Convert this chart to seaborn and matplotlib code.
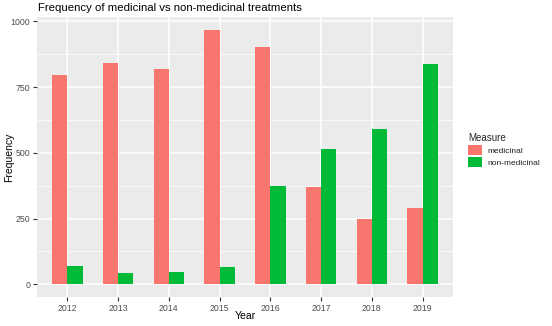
import matplotlib
matplotlib.use("Agg")
import matplotlib.pyplot as plt
import seaborn as sns
import pandas as pd
from matplotlib.patches import Patch

years = ["2012", "2013", "2014", "2015", "2016", "2017", "2018", "2019"]
medicinal = [797, 843, 820, 968, 902, 369, 249, 289]
non_medicinal = [69, 42, 46, 65, 375, 513, 589, 839]
measures = ["medicinal", "non-medicinal"]
colors = ["#F8766D", "#00BA38"]

df = pd.DataFrame({
    "Year": years * 2,
    "Frequency": medicinal + non_medicinal,
    "Measure": [measures[0]] * len(years) + [measures[1]] * len(years),
})

sns.set_theme(style="white")
plt.rcParams["font.family"] = ["Liberation Sans", "DejaVu Sans"]

W, H = 552, 326
fig = plt.figure(figsize=(W / 100, H / 100), dpi=100)
ax = fig.add_axes([37 / W, 1 - 297 / H, (453 - 37) / W, (297 - 17) / H])
ax.set_facecolor("#EBEBEB")

sns.barplot(data=df, x="Year", y="Frequency", hue="Measure", order=years,
            hue_order=measures, palette=colors, width=0.6, ax=ax,
            legend=False, saturation=1, linewidth=0, zorder=3)

ymax = max(medicinal + non_medicinal)
ax.set_xlim(-0.6, len(years) - 0.4)
ax.set_ylim(-0.05 * ymax, ymax * 1.05)

ax.set_yticks([0, 250, 500, 750, 1000])
ax.set_yticks([125, 375, 625, 875], minor=True)
ax.grid(True, which="major", color="white", linewidth=1.1, zorder=0)
ax.grid(True, which="minor", axis="y", color="white", linewidth=0.55, zorder=0)
ax.set_axisbelow(True)
for s in ax.spines.values():
    s.set_visible(False)

ax.tick_params(axis="both", which="major", length=3, width=0.8, color="#333333",
               labelsize=6.3, labelcolor="#4D4D4D", pad=2, bottom=True, left=True)
ax.tick_params(axis="both", which="minor", length=0)

ax.set_xlabel("Year", fontsize=7.5, color="black")
ax.set_ylabel("Frequency", fontsize=7.5, color="black")
ax.xaxis.set_label_coords((245 - 37) / (453 - 37), -(316 - 297) / (297 - 17))
ax.yaxis.set_label_coords(-(37 - 9) / (453 - 37), (297 - 157) / (297 - 17))
ax.xaxis.label.set_va("center")
ax.yaxis.label.set_va("center")

fig.text(38 / W, 1 - 8 / H, "Frequency of medicinal vs non-medicinal treatments",
         fontsize=8.2, color="black", ha="left", va="center")

handles = [Patch(facecolor=c, edgecolor="none") for c in colors]
leg = fig.legend(handles, measures, title="Measure", loc="upper left",
                 bbox_to_anchor=(462 / W, 1 - 127 / H), frameon=False,
                 fontsize=6, title_fontsize=7, handlelength=1.75, handleheight=1.5,
                 handletextpad=0.6, labelspacing=0.25, borderpad=0.2)
leg._legend_box.align = "left"
for t in leg.get_texts():
    t.set_color("#222222")

fig.savefig("out.png", dpi=100)
